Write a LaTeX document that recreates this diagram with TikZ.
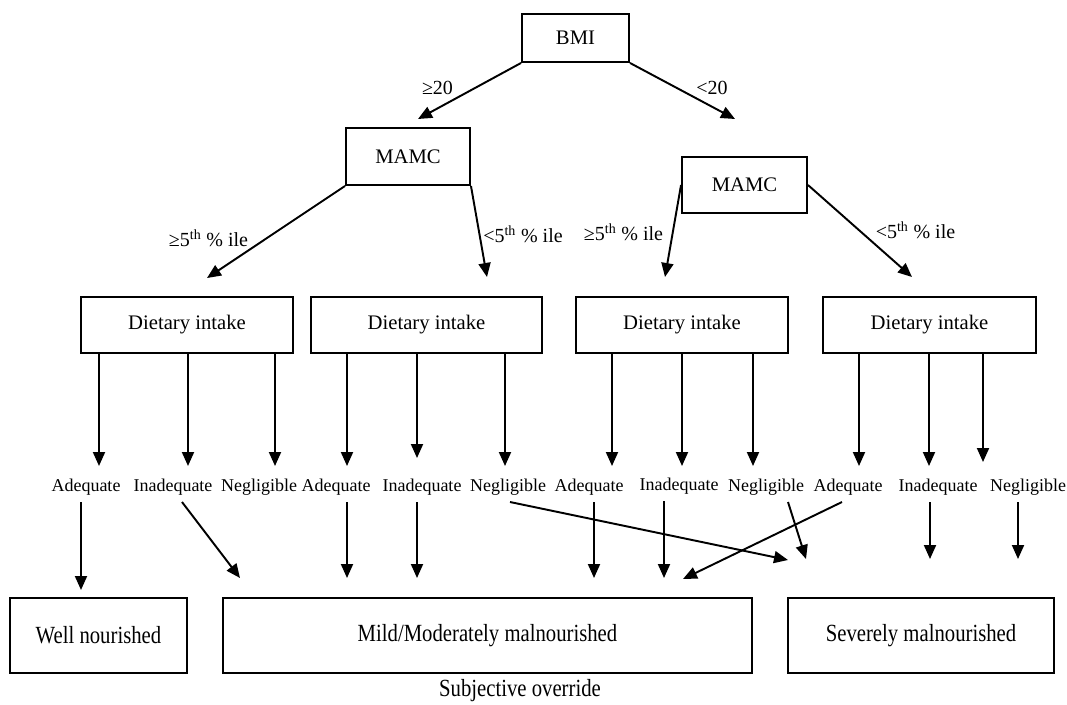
\documentclass[tikz,border=0pt]{standalone}
\usepackage{fontspec}
\setmainfont{Liberation Serif}
\newfontfamily\narrowserif[FakeStretch=0.84]{Liberation Serif}
\usetikzlibrary{arrows.meta}

\begin{document}
\begin{tikzpicture}[x=0.75pt, y=-0.75pt, line width=1.45pt,
    >={Triangle[length=10.5pt, width=9pt]}]
    \tikzstyle{block} = [draw, fill=white, rectangle, inner sep=0pt,
    minimum height=42pt, font=\fontsize{15.5}{18}\selectfont]
    \tikzstyle{result} = [block, minimum height=56.25pt,
    font=\narrowserif\fontsize{18.5}{22}\selectfont]
    \tikzstyle{cond} = [inner sep=0pt, font=\fontsize{15}{18}\selectfont]
    \tikzstyle{intake} = [inner sep=0pt, outer sep=5pt, text height=9.5pt,
    text depth=3pt, font=\fontsize{13.5}{16}\selectfont]
    \useasboundingbox (0,0) rectangle (1067,704);

    % top of the tree
    \node [block, minimum width=80.25pt, minimum height=36pt] (bmi) at (575.5,38) {BMI};
    \node [block, minimum width=93pt, minimum height=42.75pt] (mamchigh) at (408,156.5) {MAMC};
    \node [block, minimum width=93.75pt] (mamclow) at (744.5,185) {MAMC};
    \coordinate (tohigh) at (418,119);
    \coordinate (tolow) at (735,119);
    \draw [->] (bmi.south west) -- (tohigh);
    \draw [->] (bmi.south east) -- (tolow);
    \node [cond] (geqbmi) at (437.5,88) {≥20};
    \node [cond] (ltbmi) at (712,88) {<20};

    % dietary intake boxes
    \node [block, minimum width=159pt] (dietA) at (187,325) {Dietary intake};
    \node [block, minimum width=173.25pt] (dietB) at (426.5,325) {Dietary intake};
    \node [block, minimum width=159pt] (dietC) at (682,325) {Dietary intake};
    \node [block, minimum width=159.75pt] (dietD) at (929.5,325) {Dietary intake};
    \coordinate (toA) at (207,278);
    \coordinate (toB) at (487,277);
    \coordinate (toC) at (665,277);
    \coordinate (toD) at (912,277);
    \draw [->] (mamchigh.south west) -- (toA);
    \draw [->] (mamchigh.south east) -- (toB);
    \draw [->] (mamclow.west) -- (toC);
    \draw [->] (mamclow.east) -- (toD);
    \node [cond] (geqA) at (208.5,238) {≥5\textsuperscript{th} \% ile};
    \node [cond] (ltB) at (523,234) {<5\textsuperscript{th} \% ile};
    \node [cond] (geqC) at (623.5,232) {≥5\textsuperscript{th} \% ile};
    \node [cond] (ltD) at (915.5,230) {<5\textsuperscript{th} \% ile};

    % intake levels
    \node [intake] (adeqA) at (86,487) {Adequate};
    \node [intake] (inadA) at (173,487) {Inadequate};
    \node [intake] (neglA) at (259,487) {Negligible};
    \node [intake] (adeqB) at (336,487) {Adequate};
    \node [intake] (inadB) at (422,487) {Inadequate};
    \node [intake] (neglB) at (508,487) {Negligible};
    \node [intake] (adeqC) at (589,487) {Adequate};
    \node [intake] (inadC) at (679,486) {Inadequate};
    \node [intake] (neglC) at (766,487) {Negligible};
    \node [intake] (adeqD) at (848,487) {Adequate};
    \node [intake] (inadD) at (938,487) {Inadequate};
    \node [intake] (neglD) at (1028,487) {Negligible};

    \coordinate (a1) at (99,466);
    \coordinate (a2) at (188,466);
    \coordinate (a3) at (275,466);
    \coordinate (b1) at (347,466);
    \coordinate (b2) at (417,458);
    \coordinate (b3) at (505,466);
    \coordinate (c1) at (612,466);
    \coordinate (c2) at (682,466);
    \coordinate (c3) at (753,466);
    \coordinate (d1) at (859,466);
    \coordinate (d2) at (929,466);
    \coordinate (d3) at (983,462);
    \draw [->] (dietA.south -| a1) -- (a1);
    \draw [->] (dietA.south -| a2) -- (a2);
    \draw [->] (dietA.south -| a3) -- (a3);
    \draw [->] (dietB.south -| b1) -- (b1);
    \draw [->] (dietB.south -| b2) -- (b2);
    \draw [->] (dietB.south -| b3) -- (b3);
    \draw [->] (dietC.south -| c1) -- (c1);
    \draw [->] (dietC.south -| c2) -- (c2);
    \draw [->] (dietC.south -| c3) -- (c3);
    \draw [->] (dietD.south -| d1) -- (d1);
    \draw [->] (dietD.south -| d2) -- (d2);
    \draw [->] (dietD.south -| d3) -- (d3);

    % outcomes
    \node [result, minimum width=132.75pt] (well) at (98.5,635.5) {Well nourished};
    \node [result, minimum width=396.75pt] (mild) at (487.5,635.5) {Mild/Moderately malnourished};
    \node [result, minimum width=199.5pt] (severe) at (921,635.5) {Severely malnourished};
    \node [inner sep=0pt, font=\narrowserif\fontsize{18.5}{22}\selectfont] (override) at (520,691) {Subjective override};

    \coordinate (w1) at (81,590);
    \coordinate (m1) at (240,578);
    \coordinate (m2) at (347,578);
    \coordinate (m3) at (417,578);
    \coordinate (m4) at (594,578);
    \coordinate (m5) at (664,578);
    \coordinate (m6) at (683,579);
    \coordinate (s1) at (788,560);
    \coordinate (s2) at (806,559);
    \coordinate (s3) at (930,559);
    \coordinate (s4) at (1018,559);
    \draw [->] (adeqA.south -| w1) -- (w1);
    \draw [->] ([xshift=6.75pt]inadA.south) -- (m1);
    \draw [->] (adeqB.south -| m2) -- (m2);
    \draw [->] (inadB.south -| m3) -- (m3);
    \draw [->] ([xshift=1.5pt]neglB.south) -- (s1);
    \draw [->] (adeqC.south -| m4) -- (m4);
    \draw [->] (inadC.south -| m5) -- (m5);
    \draw [->] ([xshift=16.5pt]neglC.south) -- (s2);
    \draw [->] ([xshift=-4.5pt]adeqD.south) -- (m6);
    \draw [->] (inadD.south -| s3) -- (s3);
    \draw [->] (neglD.south -| s4) -- (s4);
\end{tikzpicture}
\end{document}
